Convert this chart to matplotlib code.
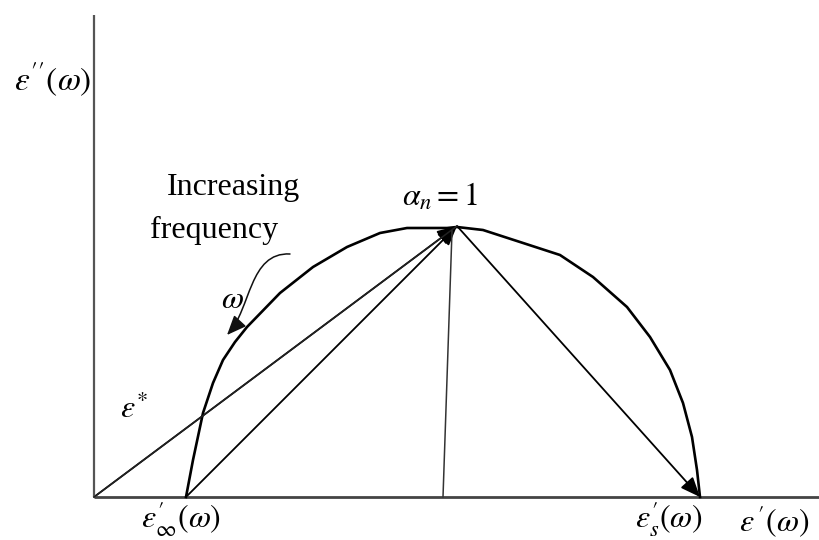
import matplotlib
matplotlib.use("Agg")
import matplotlib.pyplot as plt
from matplotlib.patches import FancyArrowPatch
from matplotlib.path import Path

plt.rcParams['mathtext.fontset'] = 'stix'
plt.rcParams['font.family'] = ['Liberation Serif', 'DejaVu Serif']

# Cole-Cole arc (schematic)
arc_x = [92, 99, 109, 119, 129, 141, 153, 186, 219, 253, 286, 313, 353, 363,
         389, 426, 466, 499, 533, 556, 576, 589, 598, 603, 606]
arc_y = [0, 37, 84, 114, 137, 155, 170, 204, 230, 250, 264, 269, 269, 270,
         267, 255, 242, 220, 190, 160, 127, 94, 60, 27, 0]

# "increasing frequency" pointer (start, two bezier handles, tip)
ptr_x = [196, 155, 157, 133]
ptr_y = [243, 245, 188, 162]

origin = (0, 0)
eps_inf = (92, 0)
eps_s = (606, 0)
peak = (363, 271)
foot = (349, 0)
foot_top = (358, 266)
axis_top = 482
axis_right = 725

fig = plt.figure(figsize=(8.19, 5.40), dpi=100)
ax = fig.add_axes([0, 0, 1, 1])
ax.set_xlim(-94, 725)
ax.set_ylim(-43, 497)
ax.axis('off')

# axes lines
ax.plot([0, 0], [0, axis_top], color='#555555', lw=1.6, solid_capstyle='butt')
ax.plot([0, axis_right], [0, 0], color='#444444', lw=2.0, solid_capstyle='butt')

# arc
ax.plot(arc_x, arc_y, color='black', lw=1.9, solid_joinstyle='round')

# vectors
ax.plot([origin[0], peak[0]], [origin[1], peak[1]], color='#222222', lw=1.1)
ax.plot([foot[0], foot_top[0]], [foot[1], foot_top[1]], color='#333333', lw=1.1)

STYLE = '-|>,head_length=12,head_width=5'

def arrow(p0, p1, lw=1.3):
    a = FancyArrowPatch(p0, p1, arrowstyle=STYLE,
                        color='black', lw=lw, shrinkA=0, shrinkB=0,
                        mutation_scale=1.0)
    ax.add_patch(a)

arrow(eps_inf, peak)
arrow(origin, peak)
arrow(peak, eps_s)

# curved pointer with arrowhead on the arc
ptr_path = Path(list(zip(ptr_x, ptr_y)),
                [Path.MOVETO, Path.CURVE4, Path.CURVE4, Path.CURVE4])
ptr = FancyArrowPatch(path=ax.transData.transform_path(ptr_path),
                      transform=None, arrowstyle=STYLE, color='#111111',
                      lw=1.1, mutation_scale=1.0)
ptr.set_transform(matplotlib.transforms.IdentityTransform())
ax.add_patch(ptr)

# texts
ax.text(-3, 417, r'$\varepsilon^{\prime\prime}(\omega)$', fontsize=24, ha='right', va='center')
ax.text(139, 310, 'Increasing', fontsize=23, ha='center', va='center')
ax.text(120, 267, 'frequency', fontsize=23, ha='center', va='center')
ax.text(346, 300, r"$\alpha_n = 1$", fontsize=23, ha='center', va='center')
ax.text(138, 196, r"$\omega$", fontsize=23, ha='center', va='center')
ax.text(40, 87, r"$\varepsilon^{*}$", fontsize=23, ha='center', va='center')
ax.text(87, -22, r"$\varepsilon^{\prime}_{\infty}(\omega)$", fontsize=23, ha='center', va='center')
ax.text(575, -21, r"$\varepsilon^{\prime}_{s}(\omega)$", fontsize=23, ha='center', va='center')
ax.text(680, -25, r"$\varepsilon^{\,\prime}(\omega)$", fontsize=23, ha='center', va='center')

fig.savefig('out.png', dpi=100, facecolor='white')
